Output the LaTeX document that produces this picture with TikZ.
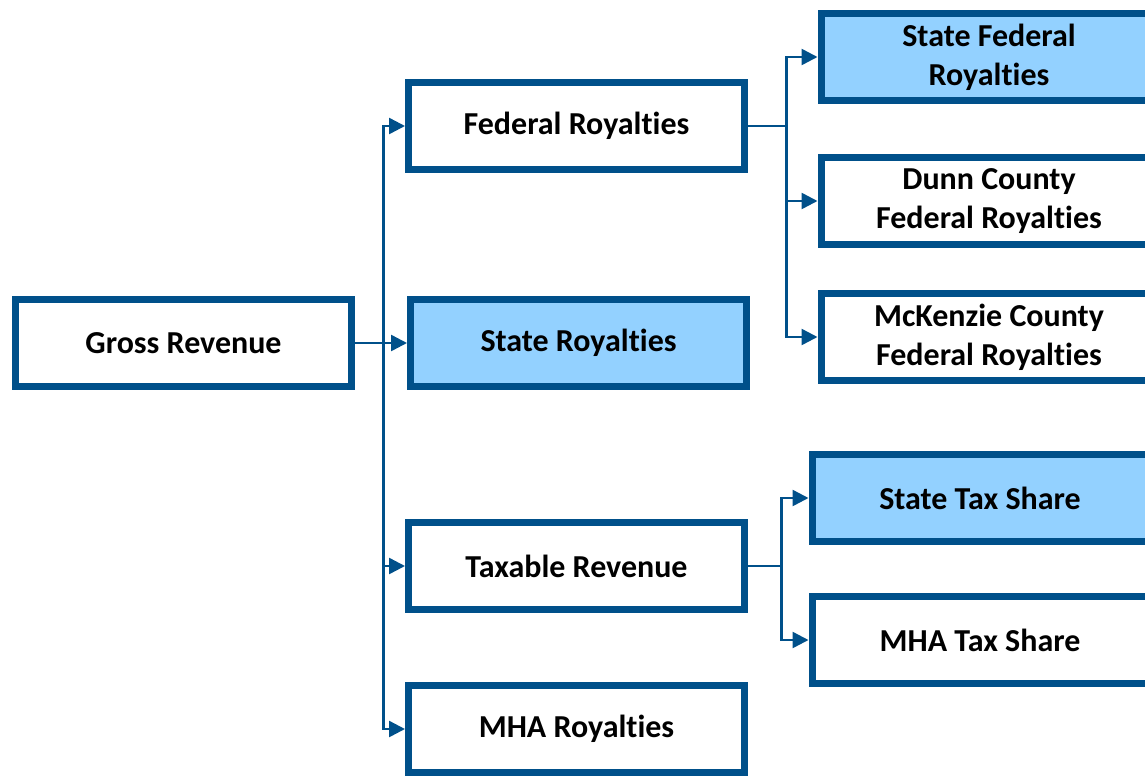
\documentclass[tikz,border=0pt]{standalone}
\usepackage{fontspec}
\setmainfont{Carlito}[Ligatures=NoCommon, RawFeature={-liga;-clig;-calt;-dlig}]
\usepackage{xcolor}
\usepackage{tikz}
\usetikzlibrary{shapes.geometric, arrows.meta}
\definecolor{rline}{HTML}{00508A}
\definecolor{rfill}{HTML}{93D1FF}
\tikzstyle{revbox} = [rectangle, minimum width=6.72cm, minimum height=1.74cm, text centered, align=center, draw=rline, line width=0.14cm, font=\bfseries\fontsize{18.2}{22}\selectfont]
\tikzstyle{statebox} = [revbox, fill=rfill]
\tikzstyle{link} = [rline, line width=0.05cm]
\tikzstyle{arrow} = [link, -{Triangle[length=0.32cm, width=0.32cm]}]

\begin{document}
\begin{tikzpicture}
				\clip (0,0) rectangle (22.9,-15.5);
				\node (gross) [revbox] at (3.67,-6.86) {Gross Revenue};
				\node (state) [statebox, right of=gross, xshift=6.9cm] {State Royalties};
				\node (fed) [revbox, above of=state, yshift=3.34cm, xshift=-0.04cm] {Federal Royalties};
				\node (taxable) [revbox, below of=state, yshift=-3.46cm, xshift=-0.04cm] {Taxable Revenue};
				\node (mha) [revbox, below of=taxable, yshift=-2.26cm] {MHA Royalties};
				\node (statefed) [statebox, right of=fed, xshift=7.25cm, yshift=1.38cm] {State Federal\\Royalties};
				\node (dunn) [revbox, below of=statefed, yshift=-1.88cm] {Dunn County\\Federal Royalties};
				\node (mckenzie) [revbox, below of=dunn, yshift=-1.72cm] {McKenzie County\\Federal Royalties};
				\node (statetax) [statebox, right of=taxable, xshift=7.07cm, yshift=1.36cm] {State Tax Share};
				\node (mhatax) [revbox, below of=statetax, yshift=-1.84cm] {MHA Tax Share};

				% split points
				\path (gross.east) ++(0.57,0) coordinate (split);
				\path (fed.east) ++(0.77,0) coordinate (fedsplit);
				\path (taxable.east) ++(0.67,0) coordinate (taxsplit);

				\draw [arrow] (gross) -- (state);
				\draw [arrow] (split) |- (fed);
				\draw [arrow] (split) |- (taxable);
				\draw [arrow] (split) |- (mha);

				\draw [link] (fed) -- (fedsplit);
				\draw [arrow] (fedsplit) |- (statefed);
				\draw [arrow] (fedsplit) |- (dunn);
				\draw [arrow] (fedsplit) |- (mckenzie);

				\draw [link] (taxable) -- (taxsplit);
				\draw [arrow] (taxsplit) |- (statetax);
				\draw [arrow] (taxsplit) |- (mhatax);

			\end{tikzpicture}
\end{document}
